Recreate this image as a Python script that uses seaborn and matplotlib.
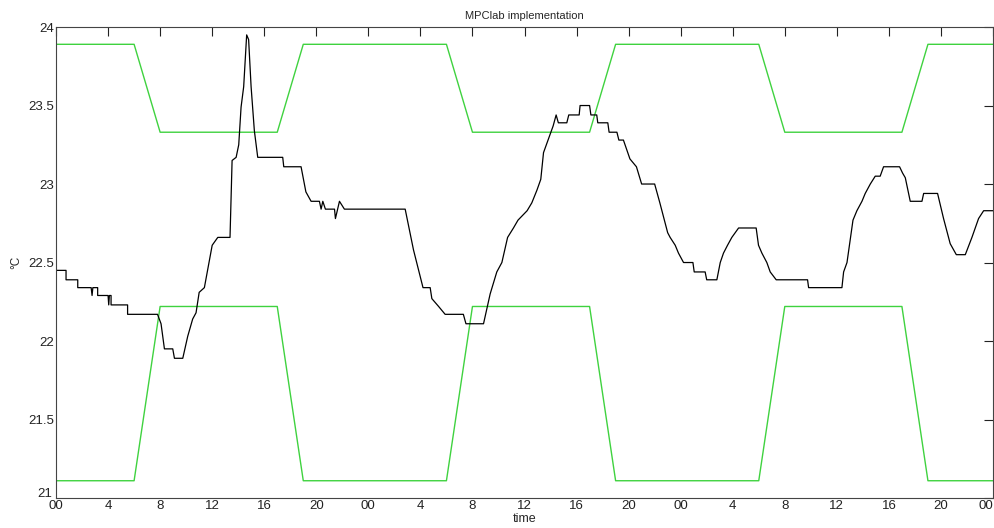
import numpy as np
import pandas as pd
import seaborn as sns
import matplotlib.pyplot as plt
from matplotlib.transforms import ScaledTranslation

# comfort band (hours since start, deg C)
band_hours = [0, 6, 8, 17, 19, 30, 32, 41, 43, 54, 56, 65, 67, 72]
upper_band = [23.89, 23.89, 23.33, 23.33, 23.89, 23.89, 23.33, 23.33, 23.89, 23.89, 23.33, 23.33, 23.89, 23.89]
lower_band = [21.11, 21.11, 22.22, 22.22, 21.11, 21.11, 22.22, 22.22, 21.11, 21.11, 22.22, 22.22, 21.11, 21.11]

temp_hours = [0, 0.77, 0.77, 1.67, 1.67, 2.7, 2.77, 2.83, 3.2, 3.2, 4.0, 4.05, 4.1, 4.23, 4.23,
              5.5, 5.5, 7.8, 8.07, 8.33, 8.97, 9.1, 9.74, 10.12, 10.5, 10.76, 11.0, 11.4, 11.8,
              12.0, 12.43, 13.37, 13.53, 13.84, 14.04, 14.22, 14.42, 14.65, 14.8, 14.99, 15.24,
              15.5, 17.42, 17.5, 18.83, 19.2, 19.6, 20.24, 20.37, 20.5, 20.7, 21.4, 21.47, 21.78,
              22.16, 26.83, 27.47, 28.2, 28.75, 28.88, 29.4, 29.9, 31.3, 31.5, 32.85, 33.36,
              33.87, 34.26, 34.7, 35.15, 35.5, 36.2, 36.56, 36.95, 37.25, 37.46, 37.85, 38.2,
              38.43, 38.6, 39.25, 39.4, 40.2, 40.27, 41.0, 41.1, 41.55, 41.63, 42.4, 42.5, 43.1,
              43.25, 43.6, 44.1, 44.6, 45.0, 46.0, 46.4, 47.0, 47.19, 47.58, 47.83, 48.22, 48.94,
              49.04, 49.88, 50.0, 50.78, 51.04, 51.29, 51.6, 51.93, 52.45, 53.8, 53.98, 54.24,
              54.62, 54.88, 55.34, 57.75, 57.83, 60.39, 60.52, 60.78, 61.24, 61.54, 61.93, 62.18,
              62.57, 62.95, 63.33, 63.59, 64.82, 65.05, 65.26, 65.64, 66.54, 66.67, 67.74, 68.2,
              68.71, 69.18, 69.87, 70.38, 70.89, 71.28, 72.0]
temp_vals = [22.45, 22.45, 22.39, 22.39, 22.34, 22.34, 22.29, 22.34, 22.34, 22.29, 22.29, 22.23, 22.29, 22.29, 22.23,
             22.23, 22.17, 22.17, 22.11, 21.95, 21.95, 21.89, 21.89, 22.03, 22.14, 22.18, 22.31, 22.34, 22.52,
             22.61, 22.66, 22.66, 23.15, 23.17, 23.25, 23.49, 23.62, 23.95, 23.92, 23.62, 23.34,
             23.17, 23.17, 23.11, 23.11, 22.95, 22.89, 22.89, 22.84, 22.89, 22.84, 22.84, 22.78, 22.89,
             22.84, 22.84, 22.58, 22.34, 22.34, 22.27, 22.22, 22.17, 22.17, 22.11, 22.11, 22.30,
             22.44, 22.50, 22.66, 22.72, 22.77, 22.83, 22.88, 22.96, 23.03, 23.20, 23.29, 23.37,
             23.44, 23.39, 23.39, 23.44, 23.44, 23.50, 23.50, 23.44, 23.44, 23.39, 23.39, 23.33, 23.33,
             23.28, 23.28, 23.16, 23.11, 23.00, 23.00, 22.88, 22.69, 22.66, 22.61, 22.56, 22.50, 22.50,
             22.44, 22.44, 22.39, 22.39, 22.50, 22.56, 22.61, 22.66, 22.72, 22.72, 22.61, 22.56,
             22.50, 22.44, 22.39, 22.39, 22.34, 22.34, 22.44, 22.50, 22.77, 22.83, 22.89, 22.94,
             23.00, 23.05, 23.05, 23.11, 23.11, 23.07, 23.04, 22.89, 22.89, 22.94, 22.94, 22.78,
             22.62, 22.55, 22.55, 22.66, 22.78, 22.83, 22.83]

tick_hours = list(range(0, 73, 4))
tick_labels = ['00', '4', '8', '12', '16', '20'] * 3 + ['00']
ytick_vals = [21, 21.5, 22, 22.5, 23, 23.5, 24]
ytick_labels = ['21', '21.5', '22', '22.5', '23', '23.5', '24']

band = pd.DataFrame({'time': band_hours, 'upper': upper_band, 'lower': lower_band})
temp = pd.DataFrame({'time': temp_hours, 'temp': temp_vals})

sns.set_style('white')
plt.rcParams['font.family'] = ['Liberation Sans', 'DejaVu Sans']
plt.rcParams['font.size'] = 8

fig = plt.figure(figsize=(9.95, 5.28), dpi=100)
ax = fig.add_axes([0.0563, 0.0568, 0.9417, 0.892])

green = '#3fd23f'
sns.lineplot(data=band, x='time', y='upper', color=green, lw=1, estimator=None, sort=False, ax=ax)
sns.lineplot(data=band, x='time', y='lower', color=green, lw=1, estimator=None, sort=False, ax=ax)
sns.lineplot(data=temp, x='time', y='temp', color='black', lw=0.9, estimator=None, sort=False, ax=ax)

ax.set_xlim(0, 72)
ax.set_ylim(21, 24)
ax.set_xticks(tick_hours)
ax.set_xticklabels(tick_labels)
ax.set_yticks(ytick_vals)
ax.set_yticklabels(ytick_labels)
ax.tick_params(direction='in', length=6.5, width=0.8, top=True, right=True,
               labelsize=9.5, colors='#222222', pad=1.5)
# last "00" sits on the right edge; keep it inside the picture
ax.get_xticklabels()[-1].set_horizontalalignment('right')
# lift the "21" a touch so it does not run into the first "00"
lbl21 = ax.get_yticklabels()[0]
lbl21.set_transform(lbl21.get_transform() + ScaledTranslation(-1 / 72, 4 / 72, fig.dpi_scale_trans))
for s in ax.spines.values():
    s.set_color('#444444')
    s.set_linewidth(0.8)

ax.set_title('MPClab implementation', fontsize=8, pad=6)
ax.set_xlabel('time', fontsize=9, labelpad=1)
ax.set_ylabel('°C', fontsize=8.5, labelpad=4)

fig.savefig('out.png', dpi=100)
